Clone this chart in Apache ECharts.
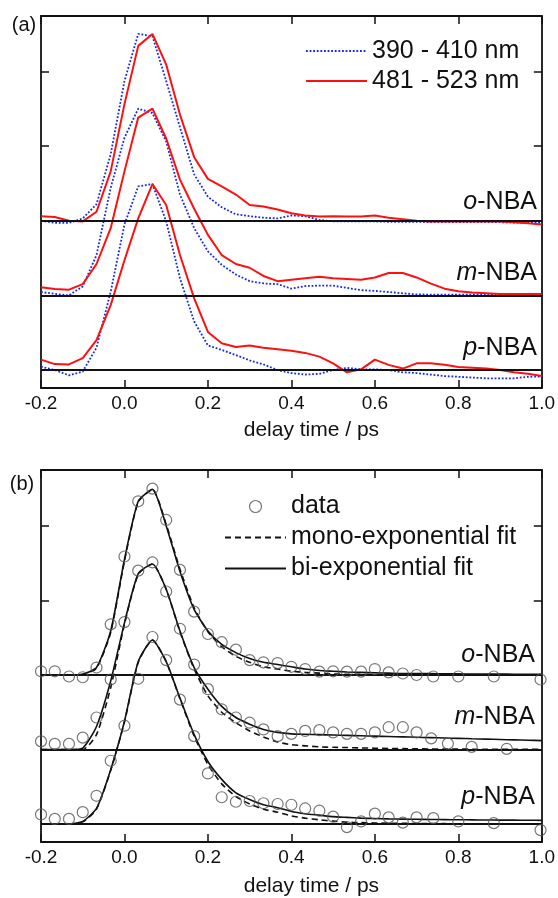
<!DOCTYPE html>
<html>
<head>
<meta charset="utf-8">
<script src="https://cdn.jsdelivr.net/npm/echarts@6/dist/echarts.min.js"></script>
<style>
  html, body { margin: 0; padding: 0; background: #fff; }
  #chart { width: 558px; height: 898px; }
</style>
</head>
<body>
<div id="chart"></div>
<script>
// delay times (ps)
const timeLine = [-0.2, -0.167, -0.133, -0.1, -0.067, -0.033, 0, 0.033, 0.067, 0.1, 0.133, 0.167,
  0.2, 0.233, 0.267, 0.3, 0.333, 0.367, 0.4, 0.433, 0.467, 0.5, 0.533, 0.567, 0.6, 0.633, 0.667,
  0.7, 0.733, 0.767, 0.8, 0.833, 0.867, 0.9, 0.933, 0.967, 1.0];
const timeDataOP = [-0.2, -0.167, -0.133, -0.1, -0.067, -0.033, 0, 0.033, 0.067, 0.1, 0.133, 0.167,
  0.2, 0.233, 0.267, 0.3, 0.333, 0.367, 0.4, 0.433, 0.467, 0.5, 0.533, 0.567, 0.6, 0.633, 0.667,
  0.7, 0.74, 0.8, 0.885, 0.997];
const timeDataM = [-0.2, -0.167, -0.133, -0.1, -0.067, -0.033, 0, 0.033, 0.067, 0.1, 0.133, 0.167,
  0.2, 0.233, 0.267, 0.3, 0.333, 0.367, 0.4, 0.433, 0.467, 0.5, 0.533, 0.567, 0.6, 0.633, 0.667,
  0.7, 0.735, 0.775, 0.832, 0.916];

// vertical offsets of the three traces
const offsetO = 2;
const offsetM = 1;
const offsetP = 0;

// (a) 390 - 410 nm
const blueO = [0.0, -0.03, -0.03, 0.03, 0.22, 0.89, 1.87, 2.50, 2.47, 1.87, 1.25, 0.62, 0.32, 0.18, 0.085, 0.06, 0.04,
  0.03, 0.07, 0.06, 0.01, -0.01, -0.01, -0.01, -0.01, -0.015, -0.015, -0.015, -0.02, -0.02, -0.02, -0.02, -0.02, -0.02, -0.025, -0.03, -0.03];
const blueM = [0.045, 0.02, 0.0, 0.12, 0.54, 1.44, 2.11, 2.50, 2.44, 2.06, 1.35, 0.90, 0.59, 0.41, 0.28, 0.19, 0.16,
  0.15, 0.09, 0.125, 0.13, 0.13, 0.10, 0.07, 0.06, 0.045, 0.027, 0.013, 0.01, 0.01, 0.01, 0.01, 0.01, 0.01, 0.01, 0.01, 0.01];
const blueP = [0.045, 0.0, -0.07, -0.02, 0.30, 1.05, 1.95, 2.46, 2.49, 1.99, 1.23, 0.65, 0.33, 0.27, 0.20, 0.13, 0.076,
  0.0, -0.04, -0.06, -0.05, 0.0, 0.03, 0.01, 0.01, 0.0, -0.03, -0.04, -0.06, -0.08, -0.09, -0.10, -0.11, -0.11, -0.11, -0.09, -0.085];
// (a) 481 - 523 nm
const redO = [0.06, 0.05, 0.0, -0.01, 0.12, 0.66, 1.56, 2.34, 2.50, 2.09, 1.42, 0.85, 0.56, 0.46, 0.35, 0.21, 0.19,
  0.15, 0.10, 0.07, 0.055, 0.06, 0.055, 0.055, 0.07, 0.04, 0.02, 0.0, -0.01, -0.01, -0.01, -0.01, -0.01, -0.01, -0.02, -0.035, -0.05];
const redM = [0.11, 0.085, 0.076, 0.15, 0.42, 0.90, 1.66, 2.38, 2.50, 2.10, 1.55, 1.16, 0.81, 0.54, 0.42, 0.37, 0.26,
  0.19, 0.21, 0.23, 0.25, 0.23, 0.22, 0.21, 0.24, 0.30, 0.30, 0.24, 0.16, 0.09, 0.054, 0.04, 0.03, 0.02, 0.02, 0.02, 0.02];
const redP = [0.14, 0.08, 0.076, 0.16, 0.40, 0.87, 1.47, 2.03, 2.49, 2.21, 1.54, 0.96, 0.51, 0.36, 0.31, 0.33, 0.30,
  0.28, 0.26, 0.23, 0.18, 0.09, -0.03, 0.01, 0.14, 0.07, 0.02, 0.09, 0.09, 0.07, 0.04, 0.03, 0.02, 0.0, -0.03, -0.05, -0.08];

// (b) data points
const dataO = [0.05, 0.05, -0.02, -0.03, 0.10, 0.68, 1.59, 2.33, 2.50, 2.08, 1.41, 0.85, 0.55, 0.44, 0.34, 0.20, 0.17,
  0.16, 0.11, 0.08, 0.045, 0.05, 0.045, 0.045, 0.08, 0.035, 0.02, 0.0, -0.02, -0.02, -0.02, -0.06];
const dataM = [0.11, 0.076, 0.076, 0.16, 0.43, 0.94, 1.71, 2.40, 2.51, 2.12, 1.62, 1.14, 0.81, 0.54, 0.43, 0.36, 0.27,
  0.18, 0.21, 0.25, 0.26, 0.23, 0.21, 0.21, 0.23, 0.30, 0.30, 0.23, 0.15, 0.08, 0.036, 0.01];
const dataP = [0.13, 0.07, 0.07, 0.16, 0.38, 0.85, 1.32, 1.95, 2.51, 2.20, 1.67, 1.18, 0.68, 0.36, 0.30, 0.31, 0.28,
  0.27, 0.26, 0.21, 0.18, 0.10, -0.04, 0.036, 0.14, 0.09, 0.02, 0.09, 0.08, 0.036, 0.013, -0.08];
// (b) mono-exponential fit
const monoO = [0, 0, 0, 0.01, 0.09, 0.57, 1.53, 2.32, 2.49, 2.02, 1.42, 0.90, 0.58, 0.38, 0.25, 0.17, 0.11,
  0.08, 0.05, 0.035, 0.025, 0.015, 0.01, 0.008, 0.006, 0.005, 0.004, 0.003, 0.002, 0.002, 0.001, 0.001, 0.001, 0, 0, 0, 0];
const monoM = [0, 0, 0, 0.0, 0.20, 0.83, 1.68, 2.35, 2.49, 2.15, 1.58, 1.08, 0.72, 0.50, 0.36, 0.25, 0.17,
  0.10, 0.065, 0.05, 0.036, 0.03, 0.027, 0.022, 0.018, 0.015, 0.012, 0.01, 0.008, 0.007, 0.006, 0.005, 0.004, 0.003, 0.003, 0.002, 0.002];
const monoP = [0, 0, 0, 0.03, 0.20, 0.72, 1.37, 2.17, 2.47, 2.18, 1.68, 1.18, 0.80, 0.54, 0.37, 0.27, 0.20,
  0.16, 0.11, 0.08, 0.058, 0.04, 0.025, 0.02, 0.015, 0.012, 0.01, 0.008, 0.007, 0.006, 0.005, 0.004, 0.004, 0.003, 0.003, 0.002, 0.002];
// (b) bi-exponential fit
const biO = [0, 0, 0, 0.01, 0.10, 0.59, 1.55, 2.33, 2.49, 2.0, 1.39, 0.88, 0.59, 0.41, 0.30, 0.22, 0.17,
  0.14, 0.11, 0.08, 0.06, 0.05, 0.04, 0.035, 0.03, 0.025, 0.02, 0.02, 0.018, 0.016, 0.015, 0.014, 0.013, 0.012, 0.011, 0.01, 0.01];
const biM = [0, 0, 0, 0.02, 0.31, 0.92, 1.70, 2.36, 2.49, 2.15, 1.59, 1.10, 0.81, 0.58, 0.43, 0.34, 0.27,
  0.23, 0.21, 0.205, 0.20, 0.195, 0.19, 0.185, 0.18, 0.175, 0.17, 0.165, 0.16, 0.155, 0.15, 0.145, 0.14, 0.135, 0.13, 0.125, 0.12];
const biP = [0, 0, 0, 0.036, 0.21, 0.73, 1.38, 2.18, 2.47, 2.18, 1.69, 1.20, 0.84, 0.60, 0.42, 0.33, 0.26,
  0.22, 0.17, 0.14, 0.12, 0.10, 0.09, 0.08, 0.075, 0.07, 0.067, 0.065, 0.062, 0.06, 0.058, 0.057, 0.055, 0.054, 0.053, 0.052, 0.05];

const xTicks = [-0.2, 0.0, 0.2, 0.4, 0.6, 0.8, 1.0];
const yTicks = [1, 2, 3, 4];

const font = "'Liberation Sans', Arial, sans-serif";
const ink = '#111';
const circleStyle = { color: 'rgba(255,255,255,0)', borderColor: '#555', borderWidth: 1.2 };

function pairs(times, values, offset) {
  return times.map((t, i) => [t, values[i] + offset]);
}

function bottomAxis(gridIndex, nameGap) {
  return {
    type: 'value', gridIndex: gridIndex, position: 'bottom',
    min: xTicks[0], max: xTicks[xTicks.length - 1], interval: 0.2,
    name: 'delay time / ps', nameLocation: 'middle', nameGap: nameGap,
    nameTextStyle: { color: ink, fontSize: 21, fontFamily: font, padding: [0, 0, 0, 40] },
    axisLine: { show: true, onZero: false, lineStyle: { color: ink, width: 1.8 } },
    axisTick: { show: true, inside: true, length: 8, lineStyle: { color: ink, width: 1.5 } },
    axisLabel: { color: ink, fontSize: 19, fontFamily: font, margin: 6,
      formatter: v => v.toFixed(1) },
    splitLine: { show: false }
  };
}

function topAxis(gridIndex) {
  return {
    type: 'value', gridIndex: gridIndex, position: 'top',
    min: xTicks[0], max: xTicks[xTicks.length - 1], interval: 0.2,
    axisLine: { show: true, onZero: false, lineStyle: { color: ink, width: 1.8 } },
    axisTick: { show: true, inside: true, length: 8, lineStyle: { color: ink, width: 1.5 } },
    axisLabel: { show: false },
    splitLine: { show: false }
  };
}

function sideAxis(gridIndex, position, max) {
  return {
    type: 'value', gridIndex: gridIndex, position: position,
    min: -0.24, max: max,
    axisLine: { show: true, onZero: false, lineStyle: { color: ink, width: 1.8 } },
    axisTick: { show: true, inside: true, length: 8, customValues: yTicks,
      lineStyle: { color: ink, width: 1.5 } },
    axisLabel: { show: false, customValues: yTicks },
    splitLine: { show: false }
  };
}

const baseLines = {
  silent: true, symbol: 'none', label: { show: false },
  lineStyle: { color: ink, width: 1.8, type: 'solid' },
  data: [{ yAxis: offsetO }, { yAxis: offsetM }, { yAxis: offsetP }]
};

function blueSeries(values, offset) {
  return {
    name: '390 - 410 nm', type: 'line', xAxisIndex: 0, yAxisIndex: 0,
    data: pairs(timeLine, values, offset), symbol: 'none',
    lineStyle: { color: '#1428f0', width: 1.8, type: [1.8, 1.8] },
    itemStyle: { color: '#1428f0' }, z: 3
  };
}
function redSeries(values, offset) {
  return {
    name: '481 - 523 nm', type: 'line', xAxisIndex: 0, yAxisIndex: 0,
    data: pairs(timeLine, values, offset), symbol: 'none',
    lineStyle: { color: '#ff1010', width: 2 },
    itemStyle: { color: '#ff1010' }, z: 4
  };
}
function dataSeries(times, values, offset) {
  return {
    name: 'data', type: 'scatter', xAxisIndex: 2, yAxisIndex: 2,
    data: pairs(times, values, offset), symbol: 'circle', symbolSize: 11,
    itemStyle: circleStyle, z: 5
  };
}
function monoSeries(values, offset) {
  return {
    name: 'mono-exponential fit', type: 'line', xAxisIndex: 2, yAxisIndex: 2,
    data: pairs(timeLine, values, offset), symbol: 'none', smooth: 0.2,
    lineStyle: { color: ink, width: 1.6, type: [6, 4] },
    itemStyle: { color: ink }, z: 3
  };
}
function biSeries(values, offset) {
  return {
    name: 'bi-exponential fit', type: 'line', xAxisIndex: 2, yAxisIndex: 2,
    data: pairs(timeLine, values, offset), symbol: 'none', smooth: 0.2,
    lineStyle: { color: ink, width: 1.6 },
    itemStyle: { color: ink }, z: 4
  };
}

const series = [
  blueSeries(blueO, offsetO), blueSeries(blueM, offsetM), blueSeries(blueP, offsetP),
  redSeries(redO, offsetO), redSeries(redM, offsetM), redSeries(redP, offsetP),
  monoSeries(monoO, offsetO), monoSeries(monoM, offsetM), monoSeries(monoP, offsetP),
  biSeries(biO, offsetO), biSeries(biM, offsetM), biSeries(biP, offsetP),
  dataSeries(timeDataOP, dataO, offsetO), dataSeries(timeDataM, dataM, offsetM), dataSeries(timeDataOP, dataP, offsetP)
];
series[0].markLine = baseLines;
series[6].markLine = baseLines;

function nbaLabel(letter, x, y) {
  return {
    type: 'text', x: x, y: y, silent: true,
    style: {
      text: '{i|' + letter + '}-NBA', textAlign: 'right', textVerticalAlign: 'middle',
      fontSize: 25, fontFamily: font, fill: ink,
      rich: { i: { fontStyle: 'italic', fontSize: 25, fontFamily: font, color: ink } }
    }
  };
}
function panelLabel(text, x, y) {
  return {
    type: 'text', x: x, y: y, silent: true,
    style: { text: text, textAlign: 'center', textVerticalAlign: 'middle',
      fontSize: 20, fontFamily: font, fill: ink }
  };
}

const noSymbol = { opacity: 0 };

const option = {
  animation: false,
  backgroundColor: '#fff',
  grid: [
    { left: 41, top: 16, width: 502, height: 372 },
    { left: 41, top: 470, width: 502, height: 372 }
  ],
  xAxis: [bottomAxis(0, 32), topAxis(0), bottomAxis(1, 34), topAxis(1)],
  yAxis: [sideAxis(0, 'left', 4.74), sideAxis(0, 'right', 4.74), sideAxis(1, 'left', 4.75), sideAxis(1, 'right', 4.75)],
  legend: [{
    data: [
      { name: '390 - 410 nm', itemStyle: noSymbol },
      { name: '481 - 523 nm', itemStyle: noSymbol }
    ],
    orient: 'vertical', left: 305, top: 36, padding: 0, itemGap: 0,
    itemWidth: 61, itemHeight: 12, selectedMode: false,
    textStyle: { color: ink, fontSize: 25, fontFamily: font, lineHeight: 30 }
  }, {
    data: [
      { name: 'data', icon: 'circle', itemStyle: circleStyle },
      { name: 'mono-exponential fit', itemStyle: noSymbol },
      { name: 'bi-exponential fit', itemStyle: noSymbol }
    ],
    orient: 'vertical', left: 224, top: 491, padding: 0, itemGap: 0,
    itemWidth: 61, itemHeight: 12, selectedMode: false,
    textStyle: { color: ink, fontSize: 25, fontFamily: font, lineHeight: 31 }
  }],
  graphic: [
    panelLabel('(a)', 24, 25),
    panelLabel('(b)', 22, 484),
    nbaLabel('o', 537, 202), nbaLabel('m', 537, 273), nbaLabel('p', 537, 348),
    nbaLabel('o', 535, 655), nbaLabel('m', 535, 717), nbaLabel('p', 535, 797)
  ],
  series: series
};

const chart = echarts.init(document.getElementById('chart'));
chart.setOption(option);
</script>
</body>
</html>
